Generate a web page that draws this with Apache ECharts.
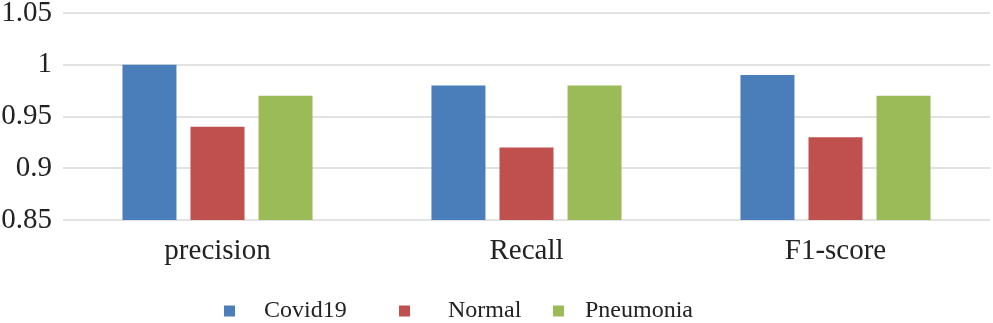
<!DOCTYPE html>
<html>
<head>
<meta charset="utf-8">
<script src="https://cdn.jsdelivr.net/npm/echarts@6/dist/echarts.min.js"></script>
<style>
  html, body { margin: 0; padding: 0; background: #fff; }
  #chart { width: 993px; height: 323px; }
</style>
</head>
<body>
<div id="chart"></div>
<script>
const categories = ['precision', 'Recall', 'F1-score'];
const covid19 = [1.0, 0.98, 0.99];
const normal = [0.94, 0.92, 0.93];
const pneumonia = [0.97, 0.98, 0.97];
const seriesNames = ['Covid19', 'Normal', 'Pneumonia'];
const colors = ['#4a7ebb', '#c0504d', '#9bbb59'];

const font = '"Liberation Serif", "Times New Roman", serif';
const chart = echarts.init(document.getElementById('chart'));

// one legend per item so the odd spacing can be matched
const legendLeft = [219, 394, 548];
const legendPad = [24, 33, 16];
const legends = seriesNames.map((name, i) => ({
  data: [name],
  left: legendLeft[i],
  top: 294,
  icon: 'rect',
  itemWidth: 11,
  itemHeight: 11,
  selectedMode: false,
  formatter: '{a|{name}}',
  textStyle: {
    rich: {
      a: {
        fontFamily: font,
        fontSize: 24,
        color: '#222',
        padding: [0, 0, 0, legendPad[i]]
      }
    }
  }
}));

const dataSets = [covid19, normal, pneumonia];
const series = seriesNames.map((name, i) => ({
  name: name,
  type: 'bar',
  data: dataSets[i],
  barWidth: 54,
  barGap: '26%',
  itemStyle: { color: colors[i] }
}));

chart.setOption({
  animation: false,
  color: colors,
  legend: legends,
  grid: {
    left: 63,
    right: 3,
    top: 13,
    bottom: 103,
    outerBoundsMode: 'none'
  },
  xAxis: {
    type: 'category',
    data: categories,
    axisTick: { show: false },
    axisLine: { show: false },
    axisLabel: {
      fontFamily: font,
      fontSize: 29,
      color: '#222',
      margin: 17
    }
  },
  yAxis: {
    type: 'value',
    min: 0.85,
    max: 1.05,
    interval: 0.05,
    axisLine: { show: false },
    axisTick: { show: false },
    axisLabel: {
      fontFamily: font,
      fontSize: 29,
      color: '#222',
      margin: 11,
      formatter: v => String(Math.round(v * 100) / 100)
    },
    splitLine: {
      lineStyle: { color: '#d9d9d9', width: 1.5 }
    }
  },
  series: series
});
</script>
</body>
</html>
